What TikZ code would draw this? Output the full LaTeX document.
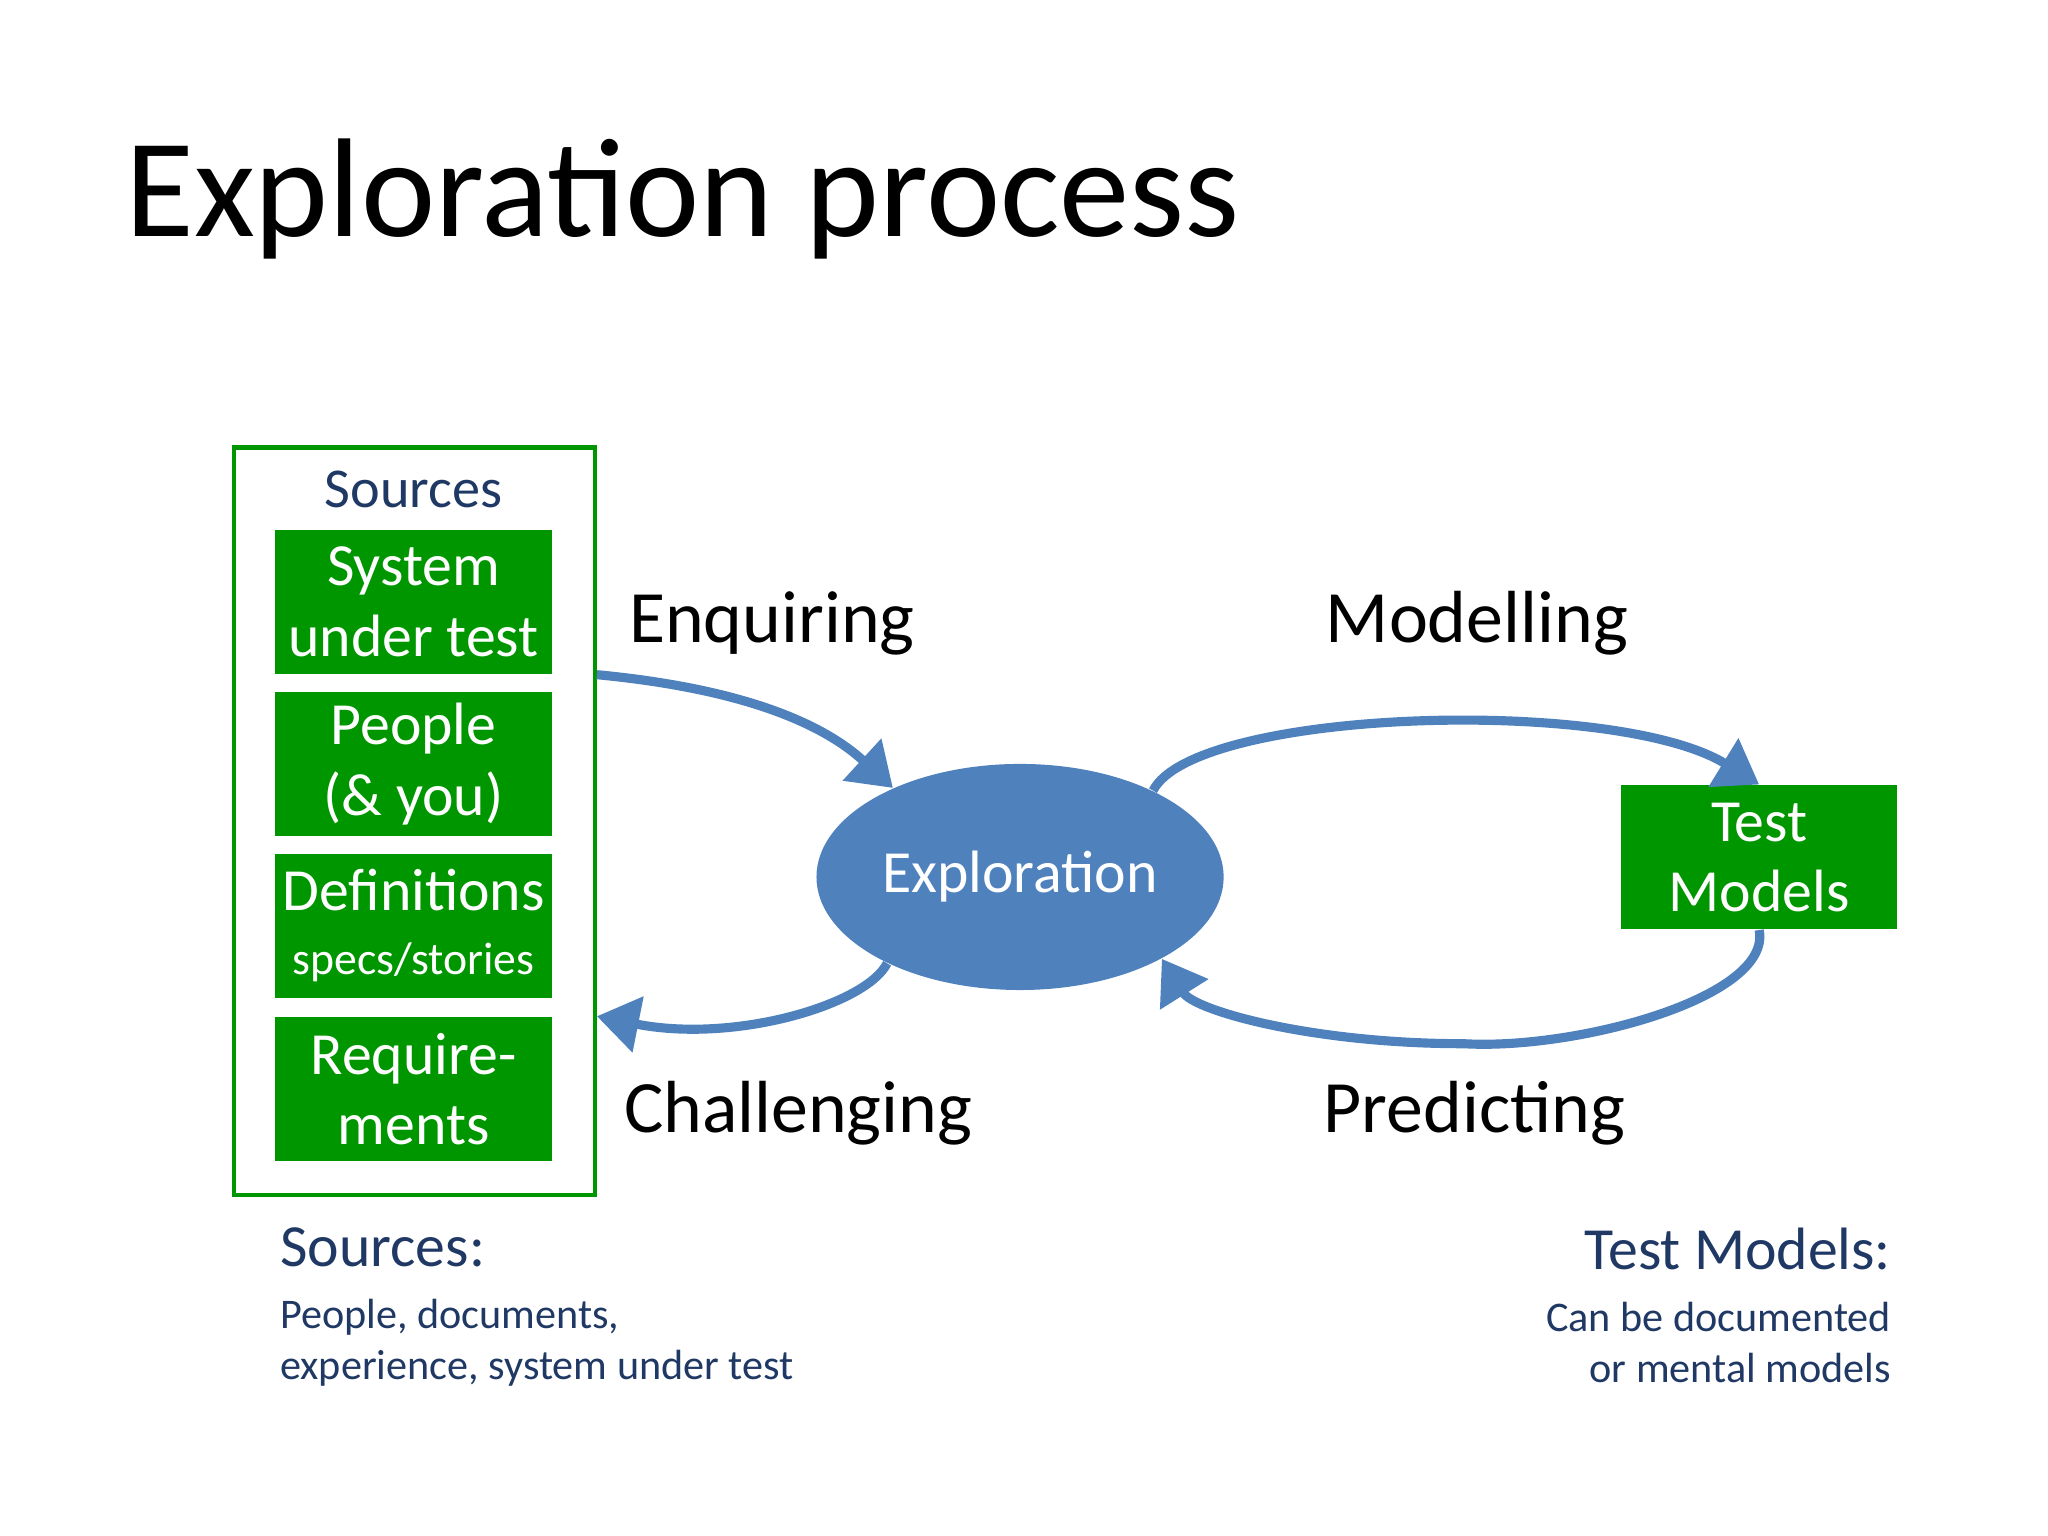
\documentclass[tikz,border=0pt]{standalone}
\usepackage{fontspec}
\setmainfont{Carlito}
\usetikzlibrary{positioning,arrows.meta,shapes}
\definecolor{srcgreen}{RGB}{0,150,0}
\definecolor{flowblue}{RGB}{79,129,189}
\definecolor{navy}{RGB}{31,56,100}
\begin{document}
\begin{tikzpicture}[x=0.013128cm, y=-0.013128cm,
  srcbox/.style={draw=none, fill=srcgreen, text=white, minimum width=2.76cm, minimum height=1.44cm,
    align=center, inner sep=0pt, font=\fontsize{17}{20}\selectfont},
  flow/.style={draw=flowblue, line width=2.6pt, -{Triangle[length=0.42cm,width=0.55cm]}},
  phase/.style={font=\fontsize{21}{24}\selectfont},
  note/.style={text=navy, align=left, inner sep=0pt, font=\fontsize{12}{14.5}\selectfont}]
  \useasboundingbox (0,0) rectangle (1560,1170);

  % Title
  \node[anchor=base west, inner sep=0pt, font=\fontsize{40}{44}\selectfont] (title) at (95,180) {Exploration process};

  % Sources
  \node[draw=srcgreen, line width=1.2pt, minimum width=3.61cm, minimum height=7.47cm, inner sep=0pt] (frame) at (315.5,625.5) {};
  \node[text=navy, font=\fontsize{16}{19}\selectfont] (srchead) at (315,373) {Sources};
  \node[srcbox] (sut) at (315,458.5) {System\\under test};
  \node[srcbox] (people) at (315,582) {People\\(\& you)};
  \node[srcbox] (defs) at (315,705) {Definitions\\[-2pt]{\fontsize{13}{15}\selectfont specs/stories}};
  \node[srcbox] (reqs) at (315,829.5) {Require-\\ments};

  % Exploration and models
  \node[ellipse, fill=flowblue, text=white, minimum width=4.07cm, minimum height=2.26cm, inner sep=0pt,
    font=\fontsize{17}{20}\selectfont] (explore) at (777,668) {Exploration};
  \node[srcbox] (models) at (1340,653) {Test\\Models};

  % Arrows
  \draw[flow] (frame.east |- sut.south) .. controls (550,523) and (620,545) .. (explore.145);
  \draw[flow] (explore.213) .. controls (660,765) and (560,795) .. (frame.east |- reqs.north);
  \draw[flow] (explore.33) .. controls (910,540) and (1230,530) .. (models.north);
  \draw[flow] (models.south) .. controls (1350,760) and (1200,800) .. (1115,795)
    .. controls (1000,795) and (910,770) .. (explore.-30);

  % Labels
  \node[phase] (enq) at (588,475) {Enquiring};
  \node[phase] (mod) at (1125,475) {Modelling};
  \node[phase] (chal) at (608,848) {Challenging};
  \node[phase] (pred) at (1123,848) {Predicting};

  % Notes
  \node[note, anchor=north west] (srcnote) at (213,935)
    {{\fontsize{17}{20}\selectfont Sources:}\\[3pt]People, documents,\\experience, system under test};
  \node[note, anchor=north east, align=right] (modnote) at (1441,935)
    {{\fontsize{17}{20}\selectfont Test Models:}\\[3pt]Can be documented\\or mental models};
\end{tikzpicture}
\end{document}
